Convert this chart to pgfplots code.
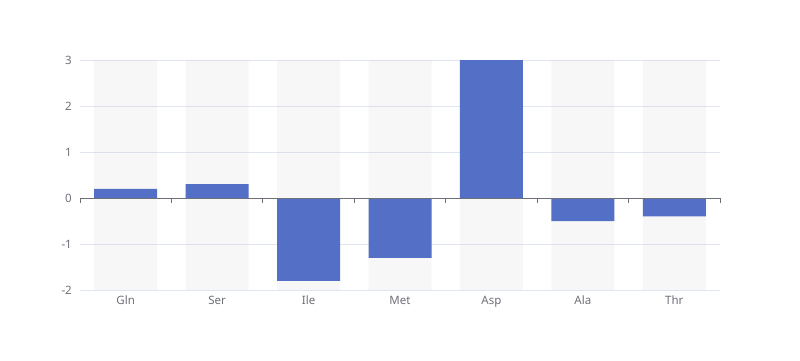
\documentclass[border=0pt]{standalone}
\usepackage{pgfplots}
\pgfplotsset{compat=1.18}
\usepackage{fontspec}
\setmainfont{Noto Sans}
\definecolor{barc}{HTML}{5470C6}
\definecolor{gridc}{HTML}{E0E6F1}
\definecolor{labc}{HTML}{6E7079}
\definecolor{bgc}{RGB}{180,180,180}
\begin{document}
\begin{tikzpicture}[x=1pt,y=1pt]
\path[use as bounding box, fill=white] (0,0) rectangle (800,360);
\begin{axis}[
  at={(80pt,70pt)}, anchor=south west, scale only axis,
  width=640pt, height=230pt,
  xmin=-0.5, xmax=6.5, ymin=-2, ymax=3,
  axis line style={draw=none},
  ytick={-2,-1,0,1,2,3}, yticklabels={-2,-1,0,1,2,3},
  xtick={0,1,2,3,4,5,6}, xticklabels={Gln,Ser,Ile,Met,Asp,Ala,Thr},
  ymajorgrids, grid style={color=gridc, line width=0.8pt},
  major tick length=0pt,
  tick label style={font=\fontsize{11.5}{13}\selectfont, text=labc},
  yticklabel style={inner sep=0pt, xshift=-8pt},
  xticklabel style={inner sep=0pt, yshift=-6pt, anchor=north},
  clip=false,
]
\addplot[ybar, bar width=63pt, bar shift=0pt, draw=none, fill=bgc, fill opacity=0.1] coordinates {(0,3) (1,3) (2,3) (3,3) (4,3) (5,3) (6,3)};
\addplot[ybar, bar width=63pt, bar shift=0pt, draw=none, fill=bgc, fill opacity=0.1] coordinates {(0,-2) (1,-2) (2,-2) (3,-2) (4,-2) (5,-2) (6,-2)};
\addplot[ybar, bar width=63pt, bar shift=0pt, draw=none, fill=barc] coordinates {(0,0.2) (1,0.3) (2,-1.8) (3,-1.3) (4,3) (5,-0.5) (6,-0.4)};
\draw[labc, line width=0.9pt] (axis cs:-0.5,0) -- (axis cs:6.5,0);
\pgfplotsinvokeforeach{-0.5,0.5,1.5,2.5,3.5,4.5,5.5,6.5}{
  \draw[labc, line width=0.9pt] (axis cs:#1,0) -- ++(0pt,-5pt);
}
\end{axis}
\end{tikzpicture}
\end{document}
